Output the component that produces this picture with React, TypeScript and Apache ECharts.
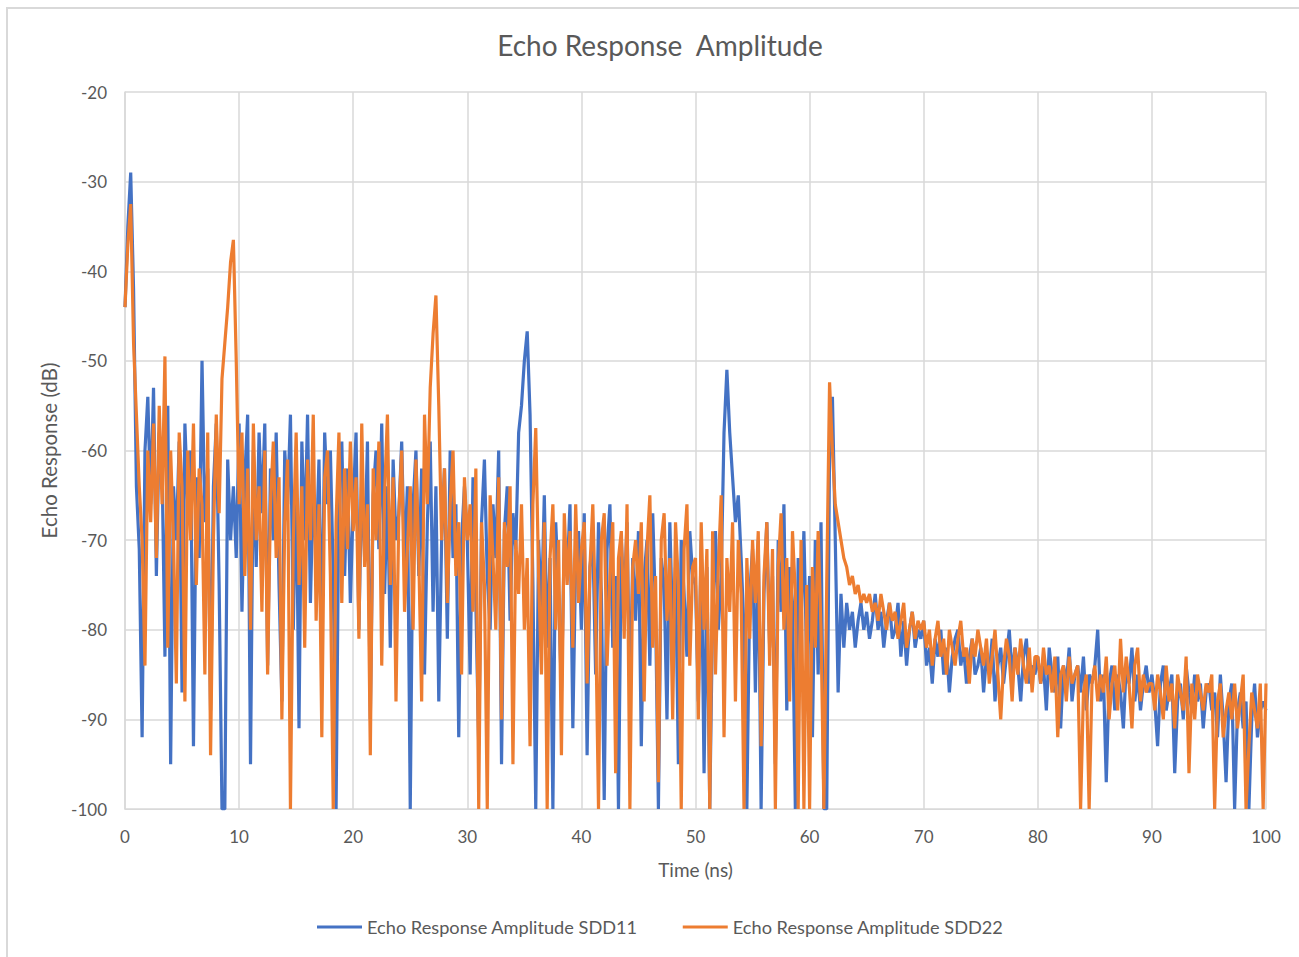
import React, { useEffect, useRef } from "react";
import * as echarts from "echarts";

const TITLE = "Echo Response  Amplitude";
const X_NAME = "Time (ns)";
const Y_NAME = "Echo Response (dB)";
const SERIES_NAMES = ["Echo Response Amplitude SDD11", "Echo Response Amplitude SDD22"];
const TIME_STEP_NS = 0.25;

// SDD11, one row per 5 ns (0.25 ns step)
const SDD11 = [
  -44, -35, -29, -42, -64, -71, -92, -60, -54, -66, -53, -74, -58, -62, -83, -55, -95, -64, -70, -59,
  -87, -57, -66, -60, -93, -63, -72, -50, -68, -62, -89, -64, -57, -75, -100, -100, -61, -70, -64, -72,
  -57, -78, -63, -56, -95, -60, -73, -58, -67, -57, -84, -62, -70, -58, -75, -88, -60, -66, -56, -80,
  -62, -91, -59, -70, -56, -77, -64, -72, -61, -82, -58, -66, -60, -74, -100, -64, -59, -74, -62, -77,
  -66, -58, -80, -63, -72, -59, -90, -65, -60, -71, -57, -76, -64, -82, -61, -70, -67, -59, -73, -64,
  -100, -66, -60, -74, -62, -85, -68, -59, -78, -64, -88, -70, -62, -81, -60, -72, -66, -92, -70, -64,
  -70, -85, -63, -77, -93, -68, -61, -74, -80, -66, -72, -60, -95, -69, -64, -79, -67, -71, -58, -55,
  -50, -46.7, -56, -75, -100, -70, -78, -65, -82, -72, -100, -68, -76, -87, -70, -74, -66, -91, -72, -69,
  -80, -67, -94, -73, -70, -85, -68, -76, -99, -71, -66, -82, -74, -100, -70, -77, -68, -88, -72, -79,
  -69, -93, -74, -70, -84, -67, -78, -100, -72, -75, -90, -68, -80, -73, -95, -70, -76, -83, -69, -74,
  -75, -88, -70, -96, -73, -100, -78, -69, -80, -74, -58, -51, -58, -63, -68, -65, -72, -80, -100, -76,
  -71, -87, -70, -100, -76, -68, -82, -74, -95, -70, -78, -66, -89, -73, -77, -100, -72, -79, -69, -84,
  -74, -92, -70, -85, -68, -100, -100, -60, -54, -70, -87, -76, -82, -77, -80, -78, -82, -79, -77, -80,
  -78, -81, -79, -76, -80, -78, -82, -79, -77, -81, -80, -77, -83, -79, -84, -80, -78, -82, -80, -81,
  -79, -84, -82, -86, -81, -83, -80, -85, -82, -87, -83, -81, -80, -84, -82, -86, -83, -81, -85, -84,
  -82, -87, -83, -85, -81, -88, -84, -82, -86, -83, -80, -85, -82, -84, -88, -83, -81, -86, -84, -85,
  -83, -86, -84, -89, -82, -85, -87, -83, -91, -84, -86, -82, -88, -85, -84, -87, -83, -89, -85, -86,
  -84, -80, -88, -85, -97, -86, -84, -89, -85, -87, -91, -84, -86, -82, -88, -85, -89, -86, -84, -87,
  -85, -88, -93, -86, -84, -89, -87, -85, -96, -88, -86, -90, -84, -87, -89, -85, -88, -86, -91, -87,
  -86, -89, -87, -92, -85, -90, -97, -88, -86, -100, -89, -87, -91, -88, -100, -90, -86, -92, -89, -88,
  -89,
];

// SDD22, one row per 5 ns (0.25 ns step)
const SDD22 = [
  -44, -37, -32.5, -48, -56, -64, -70, -84, -60, -68, -57, -72, -55, -66, -49.5, -82, -60, -70, -86, -58,
  -64, -88, -60, -70, -57, -75, -62, -66, -85, -58, -94, -70, -56, -67, -52, -48, -44, -39, -36.5, -50,
  -66, -58, -74, -62, -80, -57, -70, -64, -78, -60, -85, -66, -59, -72, -63, -90, -68, -61, -100, -70,
  -58, -75, -64, -82, -61, -70, -56, -79, -66, -92, -63, -60, -74, -100, -68, -58, -77, -62, -71, -59,
  -69, -63, -81, -57, -73, -66, -94, -62, -70, -59, -84, -65, -56, -75, -63, -88, -67, -60, -78, -71,
  -64, -80, -61, -72, -88, -56, -66, -53, -47, -42.7, -55, -70, -62, -77, -66, -60, -74, -68, -85, -63,
  -70, -66, -78, -62, -100, -68, -75, -100, -65, -72, -80, -63, -90, -68, -73, -64, -95, -70, -76, -66,
  -80, -72, -93, -66, -57.5, -74, -85, -68, -100, -72, -66, -80, -70, -94, -67, -75, -69, -82, -66, -77,
  -71, -68, -86, -73, -66, -79, -100, -70, -67, -84, -74, -68, -96, -72, -69, -81, -66, -100, -73, -70,
  -76, -68, -88, -71, -65, -82, -74, -97, -70, -67, -79, -72, -90, -68, -75, -100, -71, -66, -84, -73,
  -72, -90, -68, -80, -71, -100, -69, -85, -73, -65, -92, -72, -78, -68, -88, -70, -76, -100, -72, -81,
  -70, -77, -69, -93, -74, -68, -84, -71, -100, -73, -67, -80, -72, -88, -69, -76, -100, -70, -100, -75,
  -100, -73, -82, -69, -80, -100, -75, -52.4, -60, -66, -68, -70, -72, -73, -75, -74, -76, -75, -77, -76,
  -77, -76, -78, -77, -79, -76, -78, -80, -77, -79, -78, -81, -79, -77, -82, -80, -78, -81, -79, -80,
  -79, -82, -80, -84, -81, -79, -83, -81, -85, -80, -82, -84, -81, -79, -83, -82, -86, -81, -83, -80,
  -82, -84, -81, -86, -83, -80, -85, -90, -84, -81, -83, -88, -82, -85, -81, -84, -86, -82, -87, -83,
  -83, -86, -82, -85, -84, -87, -83, -92, -85, -84, -88, -83, -86, -85, -84, -100, -87, -85, -100, -86,
  -84, -88, -85, -87, -83, -90, -86, -84, -89, -81, -87, -83, -86, -91, -84, -82, -88, -85, -87, -86,
  -86, -89, -85, -87, -90, -84, -88, -86, -91, -85, -87, -89, -83, -96, -86, -90, -85, -87, -89, -86,
  -87, -85, -100, -88, -86, -92, -89, -87, -90, -86, -91, -88, -85, -100, -93, -87, -89, -91, -86, -100,
  -86,
];

const X_MIN = 0, X_MAX = 100, X_STEP = 10;
const Y_MIN = -100, Y_MAX = -20, Y_STEP = 10;
const COLORS = ["#4472C4", "#ED7D31"];

const FONT = "Lato, 'Liberation Sans', sans-serif";
const TEXT_COLOR = "#595959";
const GRID_COLOR = "#d9d9d9";

export default function App() {
  const ref = useRef<HTMLDivElement>(null);
  useEffect(() => {
    if (!ref.current) return;
    const chart = echarts.init(ref.current, null, { renderer: "svg" });
    const toPairs = (arr: number[]) => arr.map((v, i) => [i * TIME_STEP_NS, v]);
    chart.setOption({
      animation: false,
      backgroundColor: "#ffffff",
      textStyle: { fontFamily: FONT },
      title: {
        text: TITLE,
        left: 655,
        textAlign: "center",
        top: 26,
        textStyle: { fontFamily: FONT, fontSize: 28, fontWeight: "normal", color: TEXT_COLOR },
      },
      graphic: [
        {
          type: "rect",
          shape: { x: 7, y: 8, width: 1300, height: 960 },
          style: { fill: "none", stroke: GRID_COLOR, lineWidth: 2 },
          silent: true,
        },
      ],
      legend: {
        top: 913,
        left: 312,
        icon: "rect",
        itemWidth: 45,
        itemHeight: 3,
        itemGap: 45,
        textStyle: { fontFamily: FONT, fontSize: 18.2, color: TEXT_COLOR },
        data: SERIES_NAMES,
      },
      grid: { left: 125, top: 92, width: 1141, height: 717, containLabel: false },
      xAxis: {
        type: "value",
        min: X_MIN,
        max: X_MAX,
        interval: X_STEP,
        name: X_NAME,
        nameLocation: "middle",
        nameGap: 51,
        nameTextStyle: { fontFamily: FONT, fontSize: 19, color: TEXT_COLOR },
        axisLine: { show: true, lineStyle: { color: GRID_COLOR, width: 1 } },
        axisTick: { show: false },
        axisLabel: { fontFamily: FONT, fontSize: 17, color: TEXT_COLOR, margin: 19 },
        splitLine: { show: true, lineStyle: { color: GRID_COLOR, width: 1.5 } },
      },
      yAxis: {
        type: "value",
        min: Y_MIN,
        max: Y_MAX,
        interval: Y_STEP,
        name: Y_NAME,
        nameLocation: "middle",
        nameGap: 66,
        nameTextStyle: { fontFamily: FONT, fontSize: 20.5, color: TEXT_COLOR },
        axisLine: { show: true, lineStyle: { color: GRID_COLOR, width: 1.5 } },
        axisTick: { show: false },
        axisLabel: { fontFamily: FONT, fontSize: 17, color: TEXT_COLOR, margin: 18 },
        splitLine: { show: true, lineStyle: { color: GRID_COLOR, width: 1.5 } },
      },
      series: [
        {
          name: SERIES_NAMES[0],
          type: "line",
          data: toPairs(SDD11),
          showSymbol: false,
          symbol: "none",
          lineStyle: { color: COLORS[0], width: 3.2 },
          itemStyle: { color: COLORS[0] },
          z: 2,
        },
        {
          name: SERIES_NAMES[1],
          type: "line",
          data: toPairs(SDD22),
          showSymbol: false,
          symbol: "none",
          lineStyle: { color: COLORS[1], width: 3.2 },
          itemStyle: { color: COLORS[1] },
          z: 3,
        },
      ],
    });
    return () => chart.dispose();
  }, []);
  return (
    <div
      ref={ref}
      style={{ position: "fixed", left: 0, top: 0, width: 1299, height: 957, background: "#fff" }}
    />
  );
}
